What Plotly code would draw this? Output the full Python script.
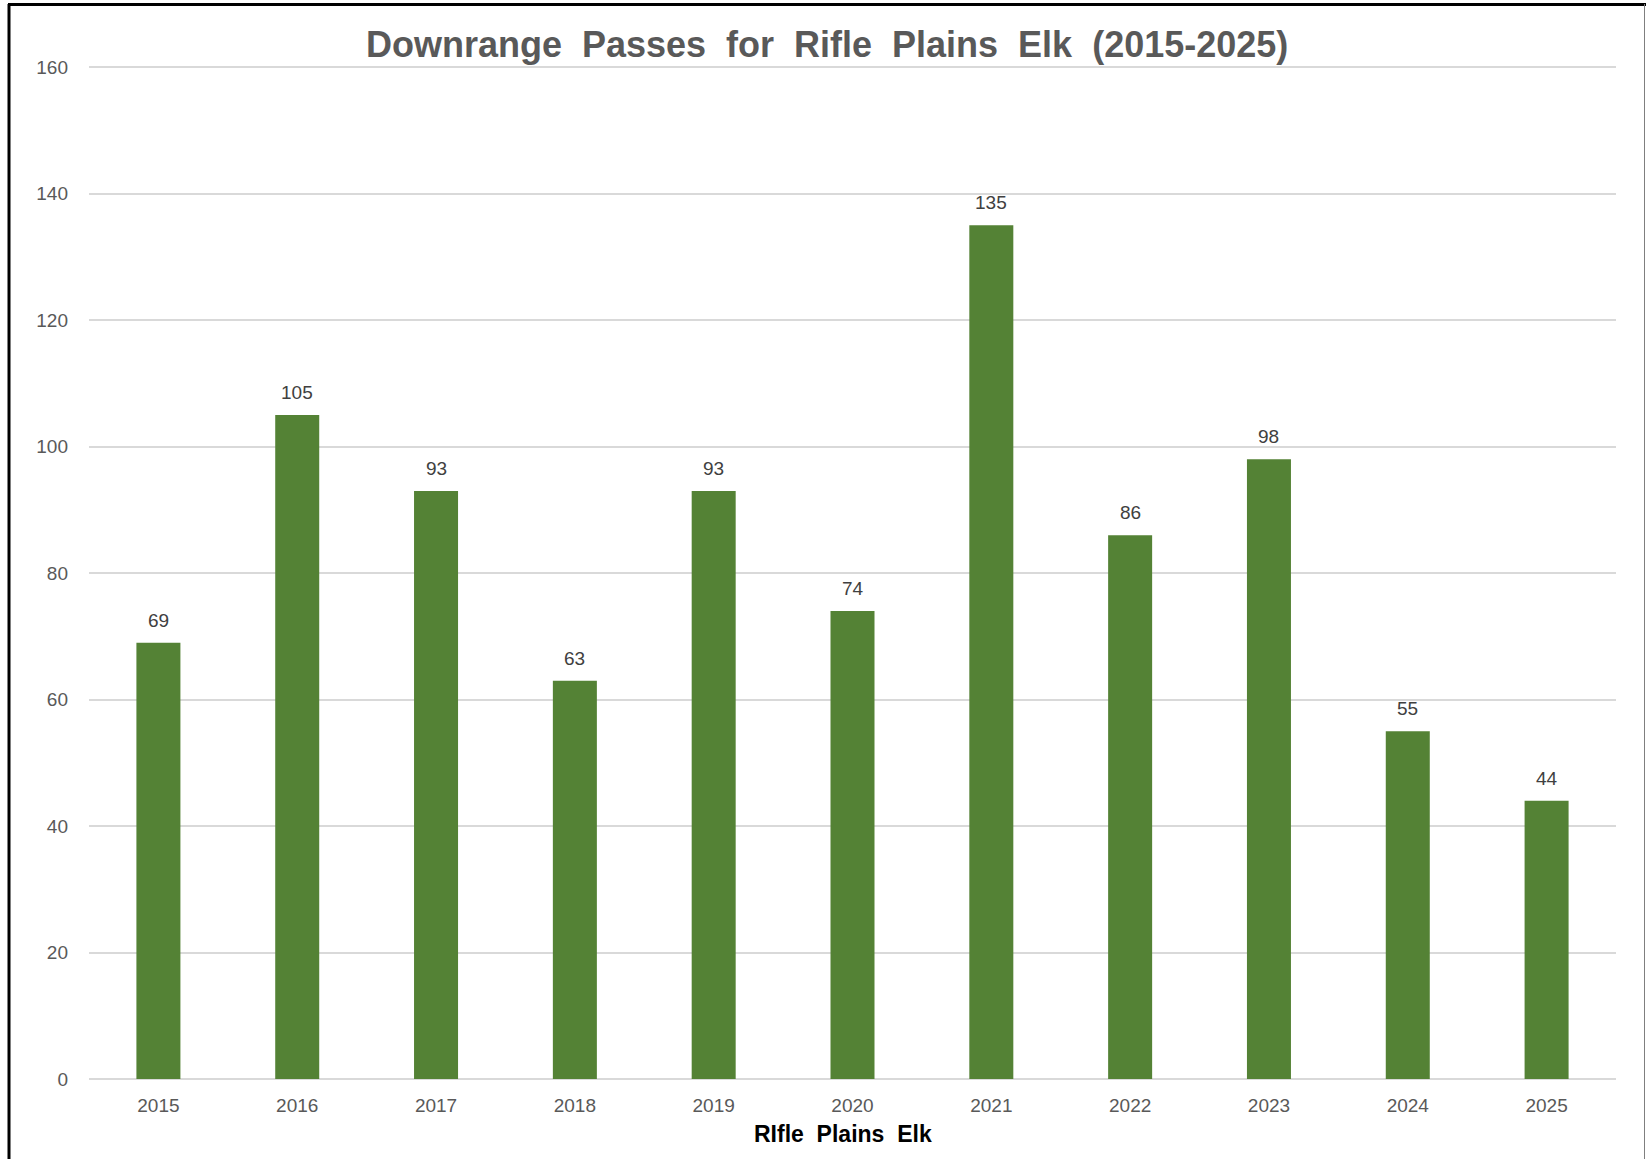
import plotly.graph_objects as go

years = ["2015", "2016", "2017", "2018", "2019", "2020", "2021", "2022", "2023", "2024", "2025"]
passes = [69, 105, 93, 63, 93, 74, 135, 86, 98, 55, 44]
y_ticks = [0, 20, 40, 60, 80, 100, 120, 140, 160]

W, H = 1646, 1159
ml, mr, mt, mb = 89, 30, 66, 80
pw, ph = W - ml - mr, H - mt - mb
FONT = "Liberation Sans, Arial, sans-serif"

def px(x):
    return (x - ml) / pw

def py(y):
    return (H - mb - y) / ph

fig = go.Figure()
fig.add_trace(go.Bar(
    x=years, y=passes,
    marker=dict(color="#548235", line=dict(width=0)),
    hoverinfo="x+y",
))

# data labels (category index positions on the category axis)
for i, v in enumerate(passes):
    fig.add_annotation(
        x=i, y=v, xref="x", yref="y",
        text=str(v), showarrow=False,
        yanchor="bottom", yshift=10,
        font=dict(family=FONT, size=19, color="#404040"),
    )

# x-axis title
fig.add_annotation(
    x=px(843), y=py(1134), xref="paper", yref="paper",
    text="<b>RIfle  Plains  Elk</b>", showarrow=False,
    xanchor="center", yanchor="middle",
    font=dict(family=FONT, size=23, color="#000000"),
)

fig.update_layout(
    width=W, height=H,
    margin=dict(l=ml, r=mr, t=mt, b=mb, pad=0),
    paper_bgcolor="white", plot_bgcolor="white",
    bargap=0.683,
    showlegend=False,
    title=dict(
        text="Downrange  Passes  for  Rifle  Plains  Elk  (2015-2025)",
        x=0.5025, xanchor="center", xref="container",
        y=1 - 44 / H, yanchor="middle", yref="container",
        font=dict(family=FONT, size=36, color="#595959", weight="bold"),
    ),
    xaxis=dict(
        type="category",
        categoryorder="array", categoryarray=years,
        range=[-0.5, len(years) - 0.5],
        showgrid=False, zeroline=False, showline=False,
        ticks="",
        tickfont=dict(family=FONT, size=19, color="#595959"),
        ticklabelstandoff=13,
    ),
    yaxis=dict(
        range=[0, 160.2],
        tickvals=y_ticks,
        showgrid=True, gridcolor="#d9d9d9", gridwidth=2,
        zeroline=True, zerolinecolor="#d9d9d9", zerolinewidth=2,
        showline=False, ticks="",
        tickfont=dict(family=FONT, size=19, color="#595959"),
        ticklabelstandoff=20,
    ),
)

# chart frame: thick dark left/top edges, thin gray right edge
fig.add_shape(type="line", xref="paper", yref="paper",
              x0=px(9), x1=px(9), y0=py(1159), y1=py(4), line=dict(color="black", width=3))
fig.add_shape(type="line", xref="paper", yref="paper",
              x0=px(8), x1=px(1646), y0=py(4.5), y1=py(4.5), line=dict(color="black", width=3))
fig.add_shape(type="line", xref="paper", yref="paper",
              x0=px(1644.5), x1=px(1644.5), y0=py(1159), y1=py(4), line=dict(color="#7f7f7f", width=1))

fig.write_html("out.html", config={"displayModeBar": False},
               post_script="document.body.style.margin='0';document.body.style.overflow='hidden';")
